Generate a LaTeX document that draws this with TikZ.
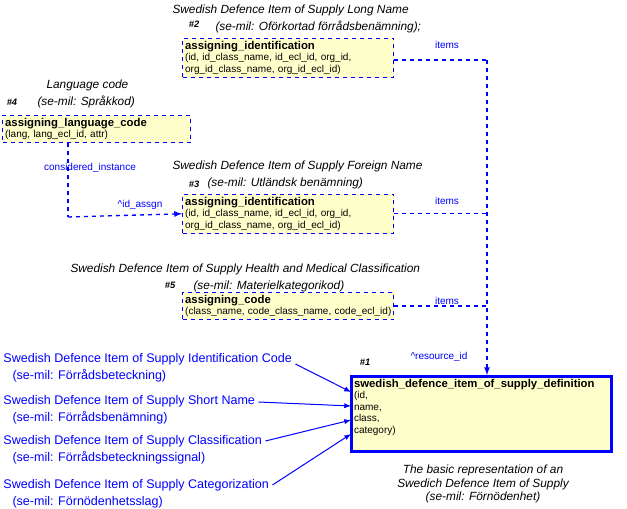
\documentclass[tikz,border=0pt]{standalone}
\usepackage{fontspec}
\setmainfont{Liberation Sans}
\usetikzlibrary{positioning,calc}
\definecolor{boxfill}{RGB}{255,255,204}
\definecolor{linkblue}{RGB}{0,0,255}
\tikzset{every picture/.style={line width=0.75pt}}
\tikzset{
  entity/.style={draw=linkblue, dashed, fill=boxfill, anchor=north west, align=left, inner sep=2pt, text width=206*0.75pt, font=\fontsize{7.5}{8.6}\selectfont},
  title/.style={font=\fontsize{8.9}{10}\selectfont\itshape, anchor=west, inner sep=0pt},
  tag/.style={font=\fontsize{7}{8}\selectfont\bfseries\itshape},
  role/.style={font=\fontsize{7.5}{9}\selectfont, text=linkblue, inner sep=1pt},
  srcname/.style={font=\fontsize{9.4}{11}\selectfont, text=linkblue, anchor=west, inner sep=0pt},
  link/.style={draw=linkblue, line width=1pt, dashed, -latex},
  busline/.style={draw=linkblue, line width=1pt, dashed},
  pointer/.style={draw=linkblue, -latex}
}
\begin{document}
\begin{tikzpicture}[x=0.75pt,y=0.75pt,yscale=-1,xscale=1]
  \useasboundingbox (0,0) rectangle (627,509);

  % entity boxes
  \node[entity] (longname) at (182,38)
    {\textbf{\fontsize{8.5}{10}\selectfont assigning\_identification}\\(id, id\_class\_name, id\_ecl\_id, org\_id,\\org\_id\_class\_name, org\_id\_ecl\_id)};
  \node[entity, text width=183*0.75pt] (langcode) at (2,115)
    {\textbf{\fontsize{8.5}{10}\selectfont assigning\_language\_code}\\(lang, lang\_ecl\_id, attr)};
  \node[entity] (foreign) at (182,194)
    {\textbf{\fontsize{8.5}{10}\selectfont assigning\_identification}\\(id, id\_class\_name, id\_ecl\_id, org\_id,\\org\_id\_class\_name, org\_id\_ecl\_id)};
  \node[entity] (health) at (182,292)
    {\textbf{\fontsize{8.5}{10}\selectfont assigning\_code}\\\mbox{(class\_name, code\_class\_name, code\_ecl\_id)}};
  \node[entity, solid, line width=2pt, text width=255*0.75pt] (item) at (350,375)
    {\textbf{\fontsize{8.5}{10}\selectfont swedish\_defence\_item\_of\_supply\_definition}\\(id,\\name,\\class,\\category)\rule[-12pt]{0pt}{0pt}};

  % titles
  \node[title] (t2a) at (172,10) {Swedish Defence Item of Supply Long Name};
  \node[title] (t2b) at (215,27) {(se-mil: Oförkortad förrådsbenämning);};
  \node[tag] (n2) at (194,24) {\#2};
  \node[title] (t4a) at (46,85) {Language code};
  \node[title] (t4b) at (37,102) {(se-mil: Språkkod)};
  \node[tag] (n4) at (12,102) {\#4};
  \node[title] (t3a) at (172,166) {Swedish Defence Item of Supply Foreign Name};
  \node[title] (t3b) at (207,183) {(se-mil: Utländsk benämning)};
  \node[tag] (n3) at (194,184) {\#3};
  \node[title] (t5a) at (70,269) {Swedish Defence Item of Supply Health and Medical Classification};
  \node[title] (t5b) at (193,286) {(se-mil: Materielkategorikod)};
  \node[tag] (n5) at (170,285) {\#5};
  \node[tag] (n1) at (365,362) {\#1};
  \node[title, anchor=center, align=center] (t1) at (483,484) {The basic representation of an\\Swedich Defence Item of Supply\\(se-mil: Förnödenhet)};

  % relations
  \coordinate (bus) at (487,60);
  \draw[busline] (longname.east |- bus) -- (bus);
  \draw[link] (bus) -- (item.north -| bus);
  \draw[busline] (foreign.east) -- (foreign.east -| bus);
  \draw[busline] (health.east) -- (health.east -| bus);
  \node[role] (items2) at (447,45) {items};
  \node[role] (items3) at (447,201) {items};
  \node[role] (items5) at (447,301) {items};
  \node[role] (resid) at (439,357) {\textasciicircum resource\_id};

  \coordinate (bend) at (68,217);
  \draw[busline] (langcode.south -| bend) -- (bend);
  \draw[link] (bend) -- (foreign.west);
  \node[role] (consid) at (90,168) {considered\_instance};
  \node[role] (idassgn) at (140,205) {\textasciicircum id\_assgn};

  % source names
  \node[srcname] (s1) at (3,359) {Swedish Defence Item of Supply Identification Code};
  \node[srcname] (s1b) at (12,376) {(se-mil: Förrådsbeteckning)};
  \node[srcname] (s2) at (3,401) {Swedish Defence Item of Supply Short Name};
  \node[srcname] (s2b) at (12,418) {(se-mil: Förrådsbenämning)};
  \node[srcname] (s3) at (3,441) {Swedish Defence Item of Supply Classification};
  \node[srcname] (s3b) at (12,458) {(se-mil: Förrådsbeteckningssignal)};
  \node[srcname] (s4) at (3,485) {Swedish Defence Item of Supply Categorization};
  \node[srcname] (s4b) at (12,502) {(se-mil: Förnödenhetsslag)};
  \draw[pointer] ($(s1.east)+(3,5)$) -- ($(item.north west)+(1,17)$);
  \draw[pointer] ($(s2.east)+(3,1)$) -- ($(item.north west)+(1,31)$);
  \draw[pointer] ($(s3.east)+(3,0)$) -- ($(item.north west)+(1,45)$);
  \draw[pointer] ($(s4.east)+(3,0)$) -- ($(item.north west)+(1,59)$);
\end{tikzpicture}
\end{document}
